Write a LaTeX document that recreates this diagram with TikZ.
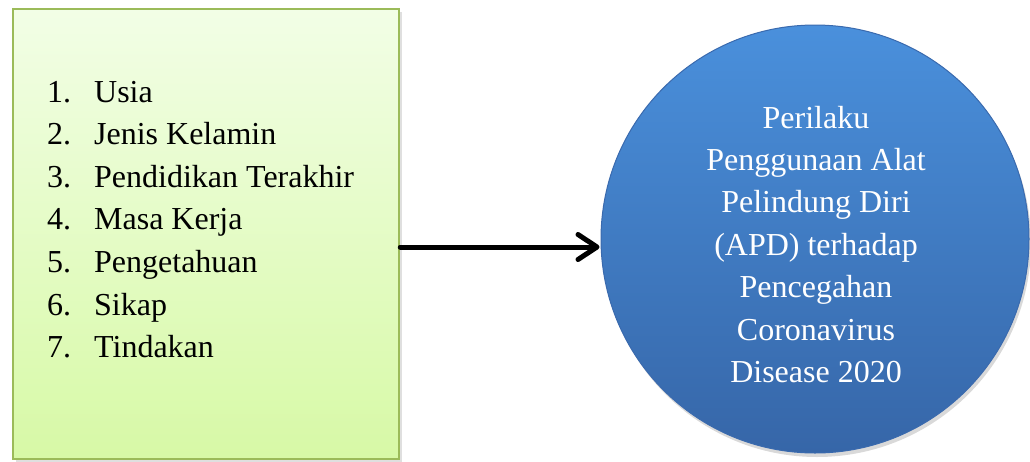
\documentclass[tikz,border=0pt]{standalone}
\usepackage{fontspec}
\setmainfont{Liberation Serif}
\usetikzlibrary{arrows.meta,shadows}
\definecolor{boxtop}{HTML}{F2FEE6}
\definecolor{boxbot}{HTML}{D7F9A6}
\definecolor{boxline}{HTML}{9BBB59}
\definecolor{circtop}{HTML}{4A90DC}
\definecolor{circbot}{HTML}{3666A8}
\definecolor{circline}{HTML}{3A6AAE}
\tikzset{
  listbox/.style={draw=boxline, line width=2.5pt, top color=boxtop, bottom color=boxbot,
    minimum width=386pt, minimum height=450pt, inner sep=0pt,
    drop shadow={shadow xshift=3pt, shadow yshift=-3pt, opacity=0.25}},
  bluecirc/.style={circle, draw=circline, line width=1pt, top color=circtop, bottom color=circbot,
    minimum size=428pt, inner sep=0pt,
    drop shadow={shadow xshift=2pt, shadow yshift=-4pt, opacity=0.3}},
  itemtxt/.style={anchor=base west, inner sep=0pt, font=\fontsize{32}{42}\selectfont},
  circtxt/.style={anchor=base, inner sep=0pt, text=white, font=\fontsize{32}{42}\selectfont},
  arr/.style={line width=5pt, line cap=round, -{Straight Barb[length=19pt,width=25pt,line cap=round,line join=round]}}
}
\begin{document}
\begin{tikzpicture}[x=1pt,y=1pt]
\useasboundingbox (0,0) rectangle (1030,-461);
\node[listbox] (box) at (206,-234) {};
\node[bluecirc] (circ) at (815,-239) {};
\foreach \n/\t [count=\i] in {1/Usia,2/Jenis Kelamin,3/Pendidikan Terakhir,4/Masa Kerja,5/Pengetahuan,6/Sikap,7/Tindakan}{
  \node[itemtxt] (item\i) at (47,{-102-42.6*(\i-1)}) {\makebox[47pt][l]{\n.}\t};
}
\foreach \t [count=\i] in {Perilaku,Penggunaan Alat,Pelindung Diri,(APD) terhadap,Pencegahan,Coronavirus,Disease 2020}{
  \node[circtxt] (line\i) at (816,{-128-42.4*(\i-1)}) {\t};
}
\draw[arr] ([yshift=-13pt]box.east) -- ([yshift=-8pt,xshift=-1pt]circ.west);
\end{tikzpicture}
\end{document}
